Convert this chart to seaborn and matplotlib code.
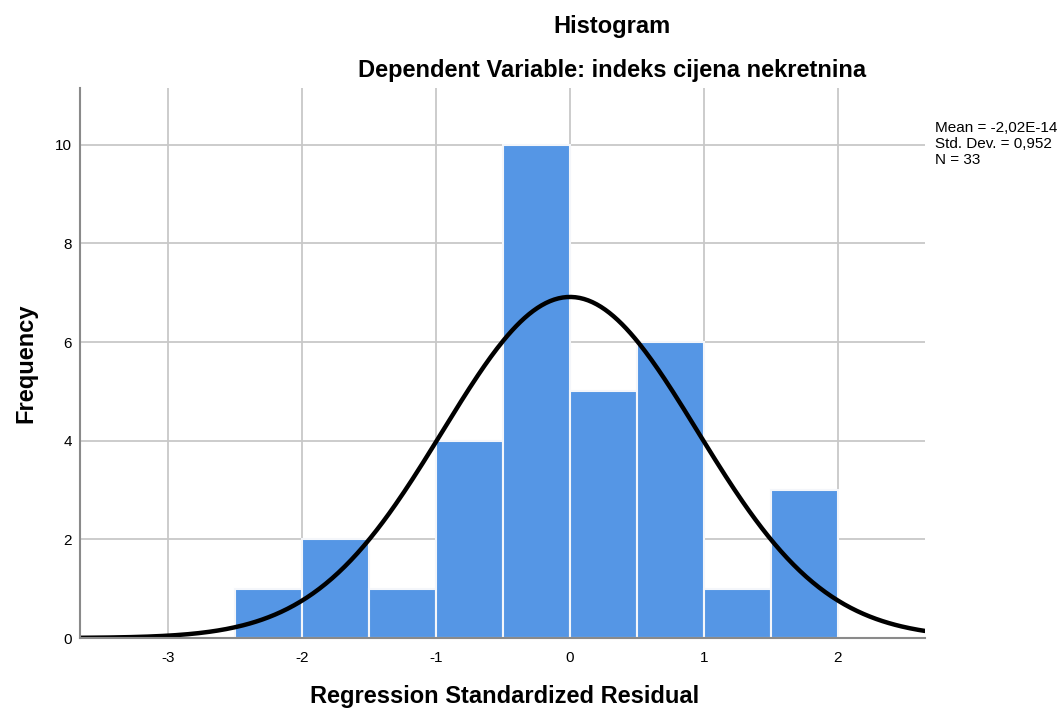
import numpy as np
import pandas as pd
import seaborn as sns
from matplotlib import pyplot as plt

# histogram of regression standardized residuals
bin_edges = [-2.5, -2.0, -1.5, -1.0, -0.5, 0.0, 0.5, 1.0, 1.5, 2.0]
bin_centers = [-2.25, -1.75, -1.25, -0.75, -0.25, 0.25, 0.75, 1.25, 1.75]
counts = [1, 2, 1, 4, 10, 5, 6, 1, 3]
x_ticks = [-3, -2, -1, 0, 1, 2]
y_ticks = [0, 2, 4, 6, 8, 10]

mean = -2.02e-14
std_dev = 0.952
n = 33
bin_width = 0.5

sns.set_style("white")
plt.rcParams['font.family'] = ['Liberation Sans', 'DejaVu Sans']
plt.rcParams['text.color'] = 'black'
plt.rcParams['axes.labelcolor'] = 'black'

fig = plt.figure(figsize=(10.63, 7.10), dpi=100)
ax = fig.add_axes([0.0753, 0.1014, 0.7947, 0.7746])

df = pd.DataFrame({"resid": bin_centers, "count": counts})
sns.histplot(data=df, x="resid", weights="count", bins=bin_edges, ax=ax,
             color="#5596e5", alpha=1, edgecolor="#f4f6fa", linewidth=1.5, zorder=2)

# fitted normal curve
xs = np.linspace(-3.66, 2.65, 400)
ys = n * bin_width * np.exp(-0.5 * ((xs - mean) / std_dev) ** 2) / (std_dev * np.sqrt(2 * np.pi))
sns.lineplot(x=xs, y=ys, ax=ax, color="black", linewidth=3.2, zorder=3)

ax.set_xlim(-3.66, 2.65)
ax.set_ylim(0, 11.15)
ax.set_xticks(x_ticks)
ax.set_xticklabels([str(t) for t in x_ticks])
ax.set_yticks(y_ticks)
ax.set_yticklabels([str(t) for t in y_ticks])
ax.tick_params(length=0, labelsize=11, colors="black")
ax.tick_params(axis="x", pad=9)
ax.tick_params(axis="y", pad=6)
ax.grid(True, color="#c8c8c8", linewidth=1.3, zorder=0)
ax.set_axisbelow(True)
for s in ["top", "right"]:
    ax.spines[s].set_visible(False)
for s in ["left", "bottom"]:
    ax.spines[s].set_color("#8a8a8a")
    ax.spines[s].set_linewidth(1.5)
    ax.spines[s].set_zorder(4)

ax.set_xlabel("Regression Standardized Residual", fontsize=17, fontweight="bold")
ax.set_ylabel("Frequency", fontsize=17, fontweight="bold")
ax.xaxis.set_label_coords(0.502, -0.107)
ax.yaxis.set_label_coords(-0.064, 0.5)
ax.xaxis.label.set_va("center")
ax.yaxis.label.set_va("center")

fig.text(612 / 1063, 1 - 27 / 710, "Histogram", ha="center", va="center",
         fontsize=17, fontweight="bold")
fig.text(612 / 1063, 1 - 71 / 710, "Dependent Variable: indeks cijena nekretnina",
         ha="center", va="center", fontsize=17, fontweight="bold")

fig.text(935 / 1063, 1 - 144 / 710,
         "Mean = -2,02E-14\nStd. Dev. = 0,952\nN = 33",
         ha="left", va="center", fontsize=11, linespacing=1.15)

fig.savefig("out.png", dpi=100)
